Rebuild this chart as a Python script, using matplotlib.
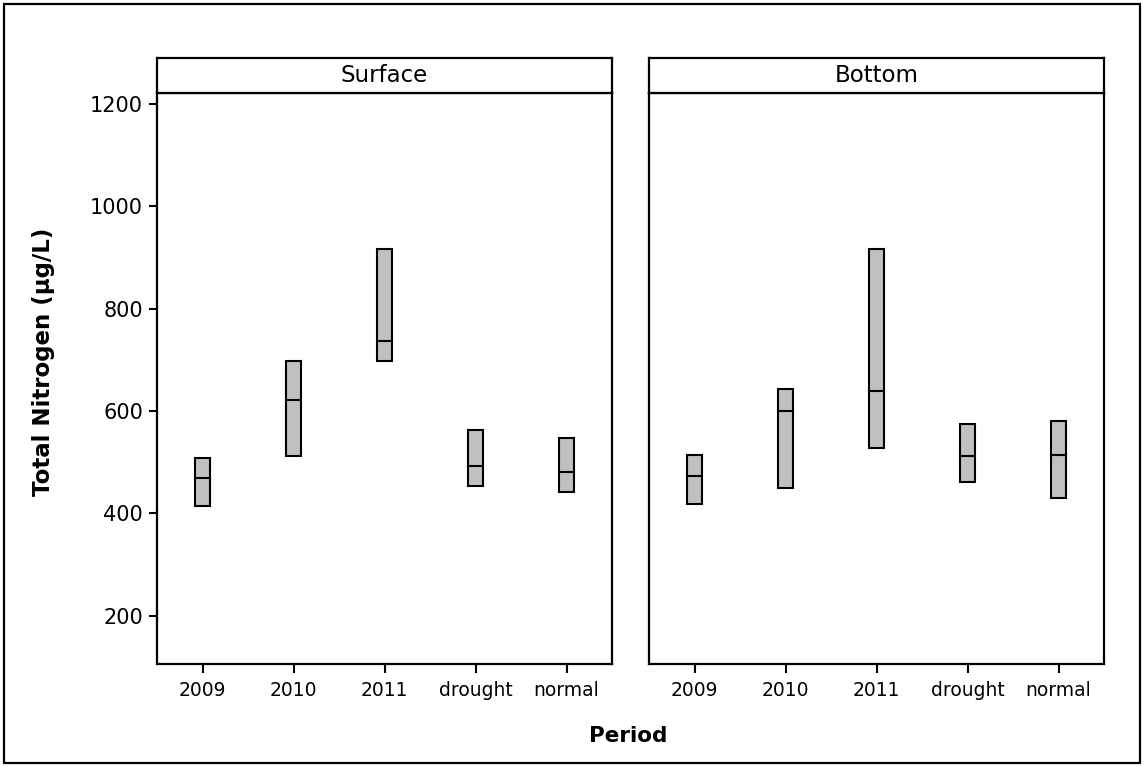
import matplotlib
matplotlib.use("Agg")
import matplotlib.pyplot as plt
from matplotlib.patches import Rectangle

periods = ["2009", "2010", "2011", "drought", "normal"]
panels = ["Surface", "Bottom"]

# interquartile box: low / median / high for each period
surface_low = [415, 512, 698, 454, 442]
surface_med = [469, 621, 737, 493, 481]
surface_high = [508, 697, 917, 563, 547]

bottom_low = [419, 450, 527, 462, 430]
bottom_med = [474, 601, 640, 512, 515]
bottom_high = [515, 643, 917, 574, 581]

yticks = [200, 400, 600, 800, 1000, 1200]

plt.rcParams['font.family'] = ['DejaVu Sans']

W, H = 1144, 766
fig = plt.figure(figsize=(W / 100, H / 100), dpi=100)

# outer frame
fig.patches.append(Rectangle((4 / W, 3 / H), 1 - 8 / W, 1 - 7 / H, transform=fig.transFigure,
                             fill=False, edgecolor="black", linewidth=1.6))

ax_left = [157, 649]
ax_w = 455
ax_top, ax_bot = 93, 664
strip_top = 58

data = [(surface_low, surface_med, surface_high), (bottom_low, bottom_med, bottom_high)]
bw = 0.17

for i, name in enumerate(panels):
    x0 = ax_left[i]
    ax = fig.add_axes([x0 / W, 1 - ax_bot / H, ax_w / W, (ax_bot - ax_top) / H])
    lo, me, hi = data[i]
    for j in range(len(periods)):
        xpos = j + 1
        ax.add_patch(Rectangle((xpos - bw / 2, lo[j]), bw, hi[j] - lo[j],
                               facecolor="#c0c0c0", edgecolor="black", linewidth=1.5, zorder=3))
        ax.plot([xpos - bw / 2, xpos + bw / 2], [me[j], me[j]], color="black", linewidth=1.5, zorder=4)
    ax.set_xlim(0.5, 5.5)
    ax.set_ylim(106, 1221)
    ax.set_xticks(range(1, 6))
    ax.set_xticklabels(periods, fontsize=13.5)
    ax.tick_params(axis="x", direction="out", length=6.5, width=1.5, pad=6)
    if i == 0:
        ax.set_yticks(yticks)
        ax.set_yticklabels([str(v) for v in yticks], fontsize=15)
        ax.tick_params(axis="y", direction="out", length=6, width=1.5, pad=4)
    else:
        ax.set_yticks([])
    for s in ax.spines.values():
        s.set_linewidth(1.6)

    sax = fig.add_axes([x0 / W, 1 - ax_top / H, ax_w / W, (ax_top - strip_top) / H])
    sax.set_xticks([])
    sax.set_yticks([])
    for s in sax.spines.values():
        s.set_linewidth(1.6)
    sax.text(0.5, 0.5, name, ha="center", va="center", fontsize=16.5, transform=sax.transAxes)

fig.text(44 / W, 1 - 362 / H, "Total Nitrogen (µg/L)", rotation=90, ha="center", va="center",
         fontsize=16.5, fontweight="bold")
fig.text(628 / W, 1 - 736 / H, "Period", ha="center", va="center", fontsize=15.5, fontweight="bold")

fig.savefig("out.png", dpi=100)
